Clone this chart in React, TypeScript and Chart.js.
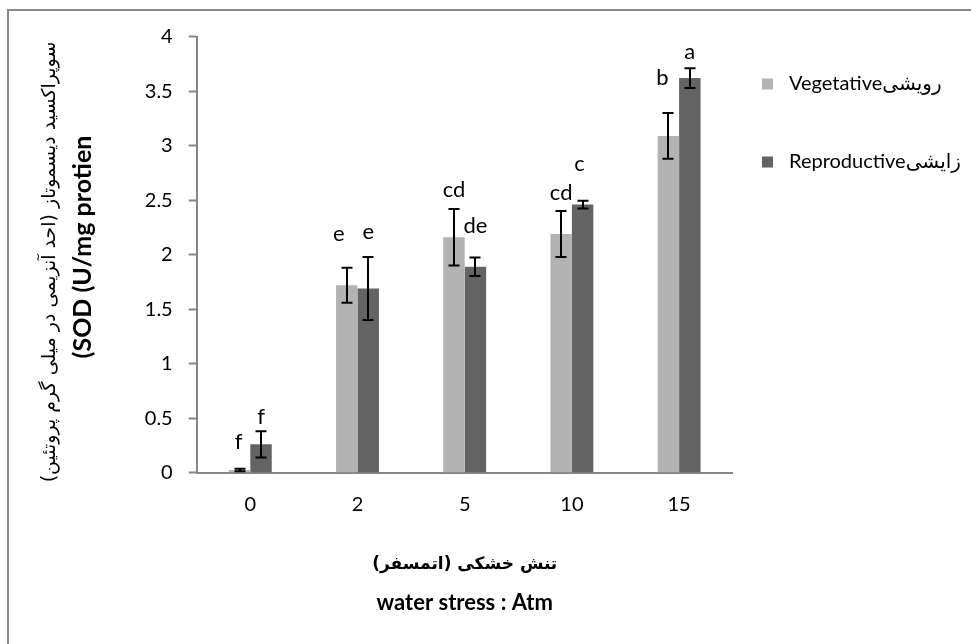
import React, { useEffect, useRef } from "react";
import { Chart, registerables } from "chart.js";

Chart.register(...registerables);

const categories = ["0", "2", "5", "10", "15"];
const vegetative = [0.025, 1.72, 2.16, 2.19, 3.09];
const reproductive = [0.26, 1.69, 1.89, 2.46, 3.62];
const vegetativeErr = [0.012, 0.16, 0.26, 0.21, 0.21];
const reproductiveErr = [0.12, 0.29, 0.085, 0.035, 0.09];
const vegetativeLetters = ["f", "e", "cd", "cd", "b"];
const reproductiveLetters = ["f", "e", "de", "c", "a"];
const yTicks = [0, 0.5, 1, 1.5, 2, 2.5, 3, 3.5, 4];

const seriesNames = ["Vegetativeرویشی", "Reproductiveزایشی"];
const xTitleFa = "تنش خشکی (اتمسفر)";
const xTitleEn = "water stress : Atm";
const yTitleFa = "سوپراکسید دیسموتاز (احد آنزیمی در میلی گرم پروتئین)";
const yTitleEn = "(SOD (U/mg protien";

// label layout (pixel lifts above error-bar tops, and x nudges)
const letterLayout = {
  vegLift: [27, 34, 19, 18, 35],
  repLift: [14, 25, 32, 37, 16],
  vegShift: [-1, -8, 0, 0, -6],
  repShift: [0, 0, 0, -3, 0],
};

const FONT = "Lato, 'DejaVu Sans', sans-serif";
const FA_FONT = "'DejaVu Sans', sans-serif";
const LIGHT = "#b3b3b3";
const DARK = "#636363";
const AXIS = "#868686";

const errorBarPlugin = {
  id: "errorBars",
  afterDatasetsDraw(chart: any) {
    const ctx = chart.ctx;
    const y = chart.scales.y;
    const errs = [vegetativeErr, reproductiveErr];
    ctx.save();
    ctx.strokeStyle = "#000";
    ctx.lineWidth = 2;
    errs.forEach((err, di) => {
      const meta = chart.getDatasetMeta(di);
      meta.data.forEach((bar: any, i: number) => {
        const v = chart.data.datasets[di].data[i] as number;
        const top = y.getPixelForValue(v + err[i]);
        const bot = y.getPixelForValue(Math.max(0, v - err[i]));
        const x = Math.round(bar.x);
        ctx.beginPath();
        ctx.moveTo(x, top);
        ctx.lineTo(x, bot);
        ctx.moveTo(x - 5.5, top);
        ctx.lineTo(x + 5.5, top);
        ctx.moveTo(x - 5.5, bot);
        ctx.lineTo(x + 5.5, bot);
        ctx.stroke();
      });
    });
    ctx.restore();
  },
};

const lettersPlugin = {
  id: "letters",
  afterDatasetsDraw(chart: any) {
    const ctx = chart.ctx;
    const y = chart.scales.y;
    const sets = [
      { letters: vegetativeLetters, err: vegetativeErr, lift: letterLayout.vegLift, shift: letterLayout.vegShift },
      { letters: reproductiveLetters, err: reproductiveErr, lift: letterLayout.repLift, shift: letterLayout.repShift },
    ];
    ctx.save();
    ctx.fillStyle = "#000";
    ctx.font = `22px ${FONT}`;
    ctx.textAlign = "center";
    ctx.textBaseline = "middle";
    sets.forEach((s, di) => {
      const meta = chart.getDatasetMeta(di);
      meta.data.forEach((bar: any, i: number) => {
        const v = chart.data.datasets[di].data[i] as number;
        const top = y.getPixelForValue(v + s.err[i]);
        ctx.fillText(s.letters[i], bar.x + s.shift[i], top - s.lift[i]);
      });
    });
    ctx.restore();
  },
};

const decorPlugin = {
  id: "decor",
  afterDraw(chart: any) {
    const ctx = chart.ctx;
    const area = chart.chartArea;
    ctx.save();
    // outer frame
    ctx.fillStyle = "#8a8a8a";
    ctx.fillRect(7, 9, 2, 640);
    ctx.fillRect(7, 9, 970, 2);

    // legend
    const colors = [LIGHT, DARK];
    const rows = [84, 162];
    ctx.font = `20px ${FONT}`;
    ctx.textBaseline = "middle";
    ctx.textAlign = "left";
    ctx.direction = "ltr";
    rows.forEach((ry, i) => {
      ctx.fillStyle = colors[i];
      ctx.fillRect(762, ry - 5.5, 11, 11);
      ctx.fillStyle = "#000";
      ctx.fillText(seriesNames[i], 789, ry);
    });

    // x titles
    const cx = (area.left + area.right) / 2;
    ctx.textAlign = "center";
    ctx.fillStyle = "#000";
    ctx.direction = "rtl";
    ctx.font = `bold 17px ${FA_FONT}`;
    ctx.fillText(xTitleFa, cx, 565);
    ctx.direction = "ltr";
    ctx.font = `bold 22px ${FONT}`;
    ctx.fillText(xTitleEn, cx, 603);

    // y titles
    ctx.save();
    ctx.translate(50, 262);
    ctx.rotate(-Math.PI / 2);
    ctx.direction = "rtl";
    ctx.font = `19px ${FA_FONT}`;
    ctx.fillText(yTitleFa, 0, 0);
    ctx.restore();

    ctx.save();
    ctx.translate(83, 247);
    ctx.rotate(-Math.PI / 2);
    ctx.direction = "ltr";
    ctx.font = `bold 25px ${FONT}`;
    ctx.fillText(yTitleEn, 0, 0);
    ctx.restore();

    ctx.restore();
  },
};

export default function App() {
  const ref = useRef<HTMLCanvasElement>(null);
  useEffect(() => {
    if (!ref.current) return;
    const chart = new Chart(ref.current, {
      type: "bar",
      data: {
        labels: categories,
        datasets: [
          {
            label: seriesNames[0],
            data: vegetative,
            backgroundColor: LIGHT,
            borderWidth: 0,
            categoryPercentage: 0.4,
            barPercentage: 1,
          },
          {
            label: seriesNames[1],
            data: reproductive,
            backgroundColor: DARK,
            borderWidth: 0,
            categoryPercentage: 0.4,
            barPercentage: 1,
          },
        ],
      },
      options: {
        responsive: false,
        animation: false,
        devicePixelRatio: 1,
        layout: { padding: { left: 136.7, right: 238.3, top: 36.7, bottom: 131.3 } },
        plugins: { legend: { display: false }, tooltip: { enabled: false } },
        scales: {
          x: {
            grid: { display: false, drawTicks: false },
            border: { display: true, color: AXIS, width: 2 },
            ticks: { color: "#000", font: { family: FONT, size: 20 }, padding: 20 },
            afterFit(scale: any) {
              scale.height = 40;
            },
          },
          y: {
            min: 0,
            max: 4,
            afterBuildTicks(scale: any) {
              scale.ticks = yTicks.map((v) => ({ value: v }));
            },
            grid: {
              display: true,
              drawOnChartArea: false,
              drawTicks: true,
              tickLength: 8,
              tickColor: AXIS,
              tickWidth: 2,
              color: AXIS,
            },
            border: { display: true, color: AXIS, width: 2 },
            ticks: {
              color: "#000",
              font: { family: FONT, size: 20 },
              padding: 16,
              callback: (v: any) => String(v),
            },
            afterFit(scale: any) {
              scale.width = 60;
            },
          },
        },
      },
      plugins: [errorBarPlugin, lettersPlugin, decorPlugin],
    });
    return () => chart.destroy();
  }, []);
  return (
    <div style={{ position: "absolute", left: 0, top: 0, width: 971, height: 644, background: "#fff" }}>
      <canvas ref={ref} width={971} height={644} style={{ width: 971, height: 644, display: "block" }} />
    </div>
  );
}
